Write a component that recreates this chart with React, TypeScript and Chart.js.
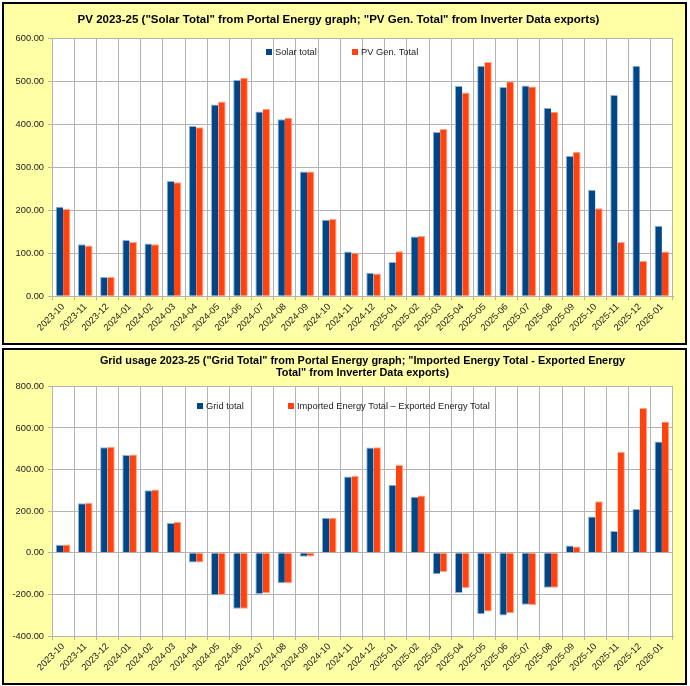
import { useEffect, useRef } from 'react';
import Chart from 'chart.js/auto';

const months = [
  '2023-10', '2023-11', '2023-12',
  '2024-01', '2024-02', '2024-03', '2024-04', '2024-05', '2024-06',
  '2024-07', '2024-08', '2024-09', '2024-10', '2024-11', '2024-12',
  '2025-01', '2025-02', '2025-03', '2025-04', '2025-05', '2025-06',
  '2025-07', '2025-08', '2025-09', '2025-10', '2025-11', '2025-12',
  '2026-01',
];

// PV chart
const solarTotal = [208, 121, 45, 131, 123, 268, 396, 446, 503, 430, 412, 290, 178, 104, 55, 80, 139, 382, 489, 536, 487, 490, 438, 326, 248, 468, 536, 164];
const pvGenTotal = [203, 118, 45, 126, 121, 265, 393, 453, 508, 436, 415, 290, 180, 101, 53, 105, 140, 389, 474, 545, 500, 488, 429, 336, 205, 126, 82, 104];

// Grid chart
const gridTotal = [39, 238, 507, 470, 301, 143, -47, -204, -269, -198, -147, -19, 169, 367, 506, 327, 269, -103, -193, -296, -301, -250, -168, 35, 174, 105, 211, 535];
const importedMinusExported = [40, 241, 510, 473, 304, 148, -47, -203, -269, -195, -147, -18, 169, 370, 507, 422, 275, -92, -169, -282, -291, -251, -168, 30, 248, 486, 696, 631];

const BLUE = '#004586';
const ORANGE = '#ff420e';
const FONT = '"Liberation Sans", Arial, sans-serif';

// white plot area on the yellow page
const plotBackground = {
  id: 'plotBackground',
  beforeDraw(chart: any) {
    const { ctx, chartArea } = chart;
    ctx.save();
    ctx.fillStyle = '#ffffff';
    ctx.fillRect(chartArea.left, chartArea.top, chartArea.right - chartArea.left, chartArea.bottom - chartArea.top);
    ctx.restore();
  },
};

// legend drawn inside the plot, like the spreadsheet does it
const insideLegend = {
  id: 'insideLegend',
  afterDraw(chart: any, _args: any, opts: any) {
    const ctx = chart.ctx;
    ctx.save();
    ctx.font = `9.3px ${FONT}`;
    ctx.textBaseline = 'middle';
    chart.data.datasets.forEach((ds: any, i: number) => {
      const x = opts.xs[i];
      ctx.fillStyle = ds.backgroundColor;
      ctx.fillRect(x, opts.y, 6, 6);
      ctx.fillStyle = '#222';
      ctx.fillText(ds.label, x + 9, opts.y + 3);
    });
    ctx.restore();
  },
};

interface PanelProps {
  top: number;
  height: number;
  title: string | string[];
  titleSize: number;
  titleLineHeight: number;
  titlePadding: { top: number; bottom: number };
  titleFullSize: boolean;
  series: Array<{ label: string; data: number[]; color: string; edge: string; side: 'left' | 'right' }>;
  yMin: number;
  yMax: number;
  yStep: number;
  legendXs: number[];
  legendY: number;
  xAxisHeight: number;
}

function BarPanel(props: PanelProps) {
  const canvasRef = useRef<HTMLCanvasElement | null>(null);
  const width = 685;
  const innerW = width - 4;
  const innerH = props.height - 4;

  useEffect(() => {
    const canvas = canvasRef.current;
    if (!canvas) return;

    const chart = new Chart(canvas, {
      type: 'bar',
      data: {
        labels: months,
        datasets: props.series.map(s => ({
          label: s.label,
          data: s.data,
          backgroundColor: s.color,
          borderColor: s.edge,
          borderWidth: s.side === 'left'
            ? { top: 1, bottom: 1, left: 1, right: 0 }
            : { top: 1, bottom: 1, left: 0, right: 1 },
          categoryPercentage: 0.66,
          barPercentage: 1,
        })),
      },
      options: {
        responsive: false,
        animation: false,
        layout: { padding: { left: 0, right: 12, top: 0, bottom: 0 } },
        plugins: {
          legend: { display: false },
          tooltip: { enabled: false },
          title: {
            display: true,
            text: props.title,
            color: '#000',
            fullSize: props.titleFullSize,
            font: { family: FONT, size: props.titleSize, weight: 'bold', lineHeight: props.titleLineHeight },
            padding: props.titlePadding,
          },
          insideLegend: { xs: props.legendXs, y: props.legendY },
        } as any,
        scales: {
          x: {
            grid: { color: '#b3b3b3', tickLength: 4, offset: true },
            border: { color: '#b3b3b3' },
            ticks: {
              color: '#222',
              font: { family: FONT, size: 9.3 },
              maxRotation: 45,
              minRotation: 45,
              padding: 1,
              autoSkip: false,
            },
            afterFit: (scale: any) => { scale.height = props.xAxisHeight; },
          },
          y: {
            min: props.yMin,
            max: props.yMax,
            grid: { color: '#b3b3b3', tickLength: 4 },
            border: { color: '#b3b3b3' },
            ticks: {
              stepSize: props.yStep,
              color: '#222',
              font: { family: FONT, size: 9.3 },
              padding: 4,
              callback: (v: any) => Number(v).toFixed(2),
            },
            afterFit: (scale: any) => { scale.width = 48; },
          },
        },
      },
      plugins: [plotBackground, insideLegend],
    });

    return () => chart.destroy();
  }, [props]);

  return (
    <div
      style={{
        position: 'absolute',
        left: 2,
        top: props.top,
        width,
        height: props.height,
        boxSizing: 'border-box',
        border: '2px solid #000',
        background: '#ffffa6',
      }}
    >
      <canvas ref={canvasRef} width={innerW} height={innerH} style={{ display: 'block' }} />
    </div>
  );
}

const pvPanel: PanelProps = {
  top: 2,
  height: 343,
  title: 'PV 2023-25 ("Solar Total" from Portal Energy graph; "PV Gen. Total" from Inverter Data exports)',
  titleSize: 11.5,
  titleLineHeight: 1.2,
  titlePadding: { top: 8.6, bottom: 11.9 },
  titleFullSize: true,
  series: [
    { label: 'Solar total', data: solarTotal, color: BLUE, edge: '#8eb0d6', side: 'left' },
    { label: 'PV Gen. Total', data: pvGenTotal, color: ORANGE, edge: '#ffa486', side: 'right' },
  ],
  yMin: 0,
  yMax: 600,
  yStep: 100,
  legendXs: [262, 348],
  legendY: 45,
  xAxisHeight: 46.7,
};

const gridPanel: PanelProps = {
  top: 348,
  height: 337,
  title: [
    'Grid usage 2023-25 ("Grid Total" from Portal Energy graph; "Imported Energy Total - Exported Energy',
    'Total" from Inverter Data exports)',
  ],
  titleSize: 10.9,
  titleLineHeight: 1.14,
  titlePadding: { top: 4.6, bottom: 6.9 },
  titleFullSize: false,
  series: [
    { label: 'Grid total', data: gridTotal, color: BLUE, edge: '#8eb0d6', side: 'left' },
    { label: 'Imported Energy Total \u2013 Exported Energy Total', data: importedMinusExported, color: ORANGE, edge: '#ffa486', side: 'right' },
  ],
  yMin: -400,
  yMax: 800,
  yStep: 200,
  legendXs: [193, 284],
  legendY: 53,
  xAxisHeight: 47,
};

export default function App() {
  return (
    <div style={{ position: 'absolute', left: 0, top: 0, width: 690, height: 686 }}>
      <BarPanel {...pvPanel} />
      <BarPanel {...gridPanel} />
    </div>
  );
}
